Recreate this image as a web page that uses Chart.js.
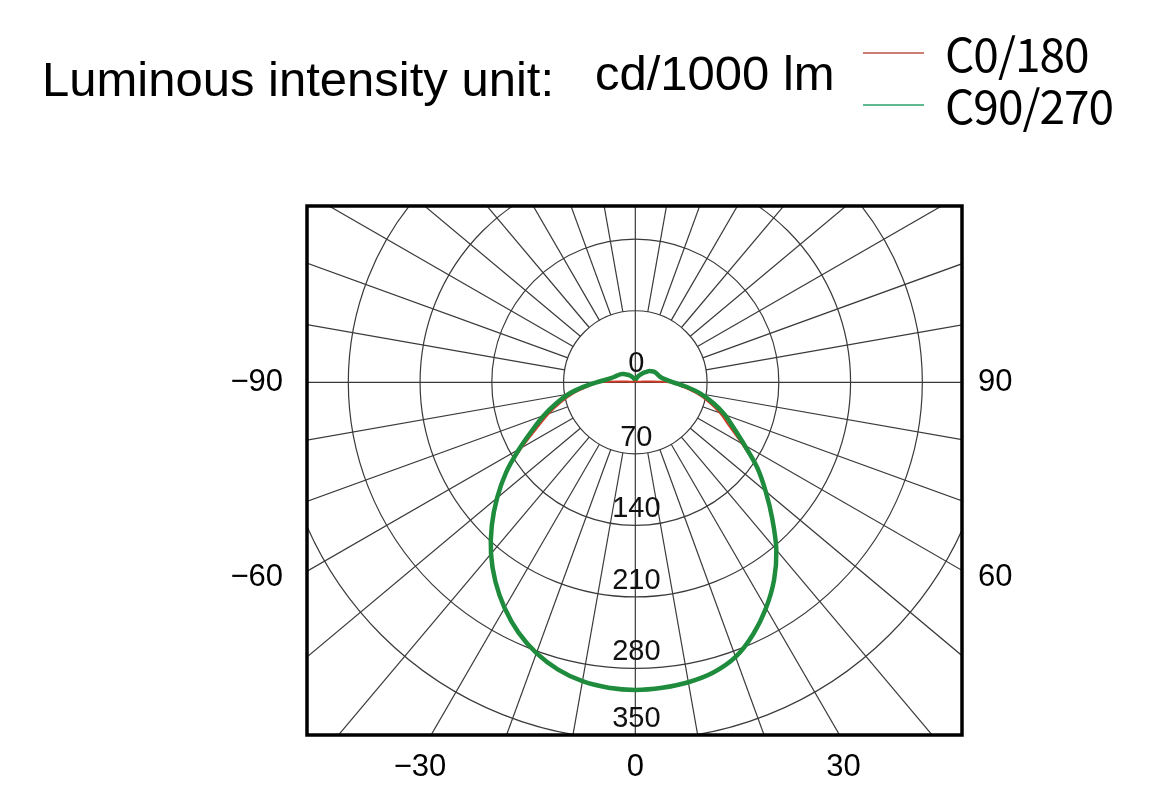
<!DOCTYPE html>
<html>
<head>
<meta charset="utf-8">
<script src="https://cdn.jsdelivr.net/npm/chart.js@4.4.1/dist/chart.umd.min.js"></script>
<style>
  html, body { margin: 0; padding: 0; background: #fff; }
  #wrap { width: 1170px; height: 810px; }
</style>
</head>
<body>
<div id="wrap"><canvas id="polarChart" width="1170" height="810"></canvas></div>
<script>
// gamma angles in degrees, measured from the nadir (straight down)
const gammaAngles = [0, 5, 10, 15, 20, 25, 30, 35, 40, 45, 50, 55, 60, 65, 70, 75, 80, 85, 90,
                     95, 100, 105, 110, 115, 120, 125, 130, 135, 140, 150, 160, 170, 180];

// cd/1000 lm, right half = C0 / C90, left half = C180 / C270
const c90Values  = [301, 300, 298, 294, 286, 272, 255, 236, 214, 189, 166, 145, 123, 106, 93, 79, 65, 50, 37,
                    30, 26, 24, 23, 22, 21, 19, 17, 14, 12, 8, 5, 3, 2];
const c270Values = [301, 300, 297, 291, 282, 270, 255, 238, 219, 198, 176, 154, 131, 111, 95, 80, 66, 51, 38,
                    29, 24, 21, 19, 17.5, 16, 14, 12, 10.5, 9, 6, 4, 3, 2];
const c0Values   = [301, 300, 298, 294, 286, 272, 255, 236, 214, 189, 166, 145, 120, 101, 88, 74, 60, 45, 33,
                    8, 3, 2, 2, 2, 2, 2, 2, 2, 2, 2, 2, 1, 1];
const c180Values = [301, 300, 297, 291, 282, 270, 255, 238, 219, 198, 176, 154, 128, 106, 90, 75, 61, 46, 34,
                    8, 3, 2, 2, 2, 2, 2, 2, 2, 2, 2, 2, 1, 1];

// grid rings and their labels
const ringValues = [0, 70, 140, 210, 280, 350];

// angle labels around the frame and the axis values they sit at
const bottomTickLabels = ['\u221230', '0', '30'];
const bottomTickAt = [-210, 0, 203];
const leftTickLabels = ['\u221290', '\u221260'];
const rightTickLabels = ['90', '60'];
const sideTickAt = [0, -191];

function toPoints(rightVals, leftVals) {
    let pts = [];
    // left half from the zenith down to the nadir
    for (let i = gammaAngles.length - 1; i >= 0; i--) {
        let g = gammaAngles[i] * Math.PI / 180;
        pts.push({ x: -leftVals[i] * Math.sin(g), y: -leftVals[i] * Math.cos(g) });
    }
    // right half from the nadir up to the zenith
    for (let i = 1; i < gammaAngles.length; i++) {
        let g = gammaAngles[i] * Math.PI / 180;
        pts.push({ x: rightVals[i] * Math.sin(g), y: -rightVals[i] * Math.cos(g) });
    }
    return pts;
}

const polarGrid = {
    id: 'polarGrid',
    beforeDatasetsDraw(chart) {
        const { ctx, chartArea: a, scales: { x, y } } = chart;
        const cx = x.getPixelForValue(0), cy = y.getPixelForValue(0);
        const kx = x.getPixelForValue(1) - cx;
        const ky = cy - y.getPixelForValue(1);

        ctx.save();
        ctx.beginPath();
        ctx.rect(a.left, a.top, a.right - a.left, a.bottom - a.top);
        ctx.clip();
        ctx.strokeStyle = '#3a3a3a';
        ctx.lineWidth = 1.2;

        // rings (outer ring only on the lower half)
        ringValues.forEach(r => {
            if (r === 0) return;
            ctx.beginPath();
            if (r > 280) ctx.ellipse(cx, cy, r * kx, r * ky, 0, 0, Math.PI);
            else ctx.ellipse(cx, cy, r * kx, r * ky, 0, 0, Math.PI * 2);
            ctx.stroke();
        });

        // spokes every 10 degrees, axes go through the centre
        const inner = ringValues[1], outer = 700;
        for (let g = 0; g < 360; g += 10) {
            let s = Math.sin(g * Math.PI / 180), c = Math.cos(g * Math.PI / 180);
            let r0 = (g % 90 === 0) ? 0 : inner;
            ctx.beginPath();
            ctx.moveTo(cx + r0 * kx * s, cy + r0 * ky * c);
            ctx.lineTo(cx + outer * kx * s, cy + outer * ky * c);
            ctx.stroke();
        }
        ctx.restore();

        // ring labels down the vertical axis, kept inside the frame
        ctx.save();
        ctx.fillStyle = '#111';
        ctx.font = '29px "Liberation Sans", Arial, sans-serif';
        ctx.textAlign = 'center';
        ctx.textBaseline = 'alphabetic';
        ringValues.forEach(r => {
            let base = r === 0 ? cy - 10 : y.getPixelForValue(-r) - 8;
            ctx.fillText(String(r), cx + 1, Math.min(base, a.bottom - 8));
        });
        ctx.restore();
    },
    afterDatasetsDraw(chart) {
        const { ctx, chartArea: a } = chart;
        ctx.save();
        ctx.strokeStyle = '#000';
        ctx.lineWidth = 3.5;
        ctx.strokeRect(a.left, a.top, a.right - a.left, a.bottom - a.top);
        ctx.restore();
    },
    afterDraw(chart) {
        const ctx = chart.ctx;
        ctx.save();
        ctx.fillStyle = '#000';
        ctx.textBaseline = 'alphabetic';
        ctx.textAlign = 'left';
        ctx.font = '49px "Liberation Sans", Arial, sans-serif';
        ctx.fillText('Luminous intensity unit:', 42, 96);
        ctx.fillText('cd/1000 lm', 595, 90);

        // legend
        const items = [
            { label: 'C0/180', color: 'rgb(205,125,115)', y: 53 },
            { label: 'C90/270', color: 'rgb(95,185,145)', y: 105 }
        ];
        ctx.font = '46px "Noto Sans CJK SC", "DejaVu Sans", sans-serif';
        ctx.letterSpacing = '-1px';
        items.forEach(it => {
            ctx.strokeStyle = it.color;
            ctx.lineWidth = 2;
            ctx.beginPath();
            ctx.moveTo(863, it.y);
            ctx.lineTo(924, it.y);
            ctx.stroke();
            ctx.fillText(it.label, 945, it.y + 19);
        });
        ctx.restore();
    }
};

const tickFont = { family: '"Liberation Sans", Arial, sans-serif', size: 31 };

const config = {
    type: 'scatter',
    data: {
        datasets: [
            {
                label: 'C0/180',
                data: toPoints(c0Values, c180Values),
                showLine: true,
                borderColor: '#d23a28',
                borderWidth: 2,
                pointRadius: 0,
                tension: 0.3,
                order: 1
            },
            {
                label: 'C90/270',
                data: toPoints(c90Values, c270Values),
                showLine: true,
                borderColor: '#1e8c3c',
                borderWidth: 4.5,
                pointRadius: 0,
                tension: 0.3,
                order: 0
            }
        ]
    },
    options: {
        responsive: false,
        animation: false,
        devicePixelRatio: 1,
        layout: { padding: { top: 206, left: 0, right: 0, bottom: 0 } },
        plugins: {
            legend: { display: false },
            tooltip: { enabled: false }
        },
        scales: {
            x: {
                type: 'linear', min: -320.3, max: 318.7,
                grid: { display: false, drawTicks: false },
                border: { display: false },
                afterBuildTicks: s => { s.ticks = bottomTickAt.map(v => ({ value: v })); },
                afterFit: s => { s.height = 75; },
                ticks: {
                    callback: (v, i) => bottomTickLabels[i],
                    font: tickFont, color: '#000', padding: 14,
                    maxRotation: 0, autoSkip: false
                }
            },
            y: {
                type: 'linear', position: 'left', min: -345.1, max: 172.5,
                grid: { display: false, drawTicks: false },
                border: { display: false },
                afterBuildTicks: s => { s.ticks = sideTickAt.map(v => ({ value: v })); },
                afterFit: s => { s.width = 307; },
                ticks: {
                    callback: (v, i) => leftTickLabels[i],
                    font: tickFont, color: '#000', padding: 24, autoSkip: false
                }
            },
            yRight: {
                type: 'linear', position: 'right', min: -345.1, max: 172.5,
                grid: { display: false, drawTicks: false },
                border: { display: false },
                afterBuildTicks: s => { s.ticks = sideTickAt.map(v => ({ value: v })); },
                afterFit: s => { s.width = 208; },
                ticks: {
                    callback: (v, i) => rightTickLabels[i],
                    font: tickFont, color: '#000', padding: 16, autoSkip: false
                }
            }
        }
    },
    plugins: [polarGrid]
};

var polarChart = new Chart(document.getElementById('polarChart'), config);
</script>
</body>
</html>
